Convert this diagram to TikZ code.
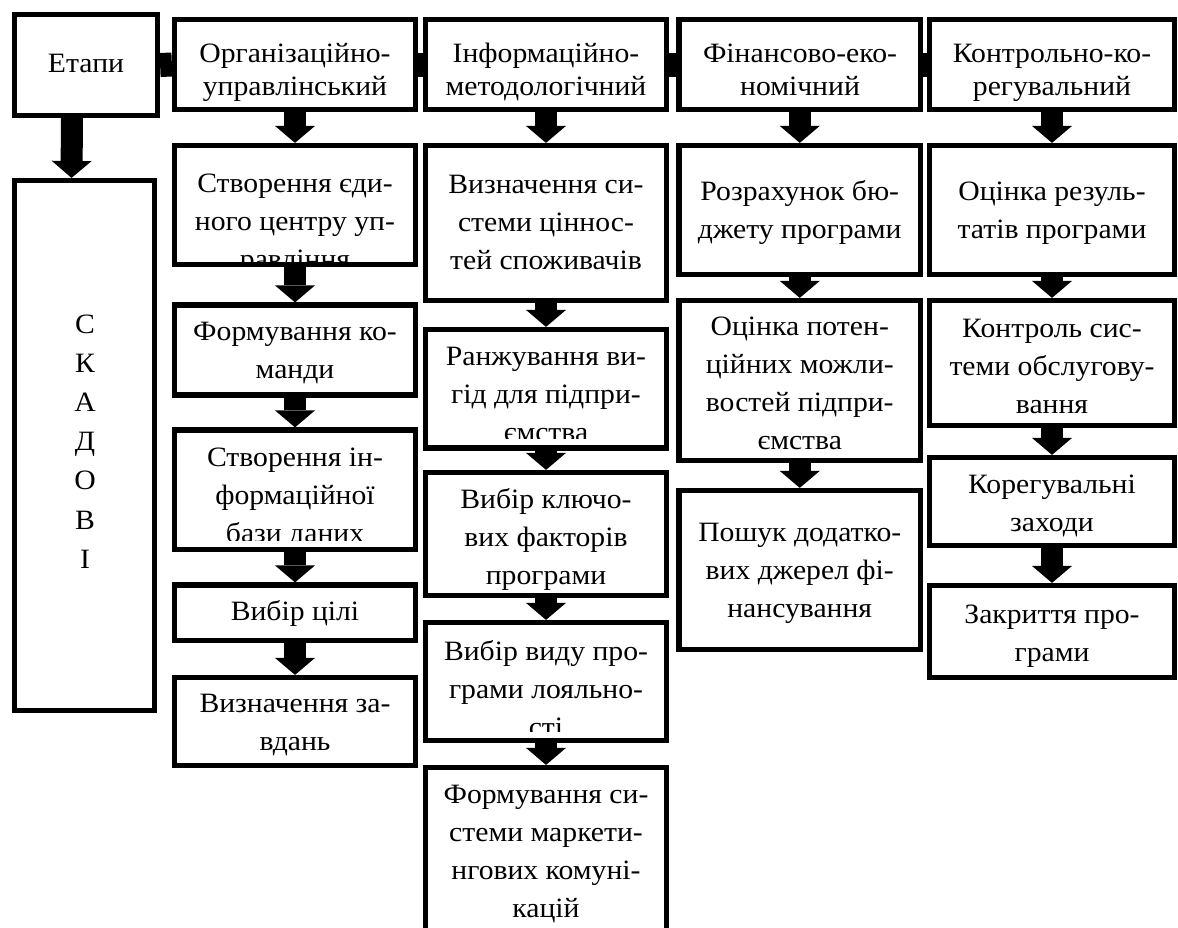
\documentclass[tikz,border=0pt]{standalone}
\usepackage{fontspec}
\setmainfont[FakeStretch=1.06]{Liberation Serif}
\usetikzlibrary{arrows.meta,fit}
\newcommand\lines[1]{\begin{tabular}[t]{@{}c@{}}#1\end{tabular}}
% box with clipped text: name, x1, y1, x2, y2, clip bottom, first baseline, text
\newcommand\mybox[8]{%
  \begin{scope}
    \clip (#2,#3) rectangle (#4,#6);
    \node[txt] (#1t) at ({(#2+#4)/2},#7) {\lines{#8}};
  \end{scope}
  \node[box, fit={(#2,#3) (#4,#5)}] (#1) {};
}
\begin{document}
\begin{tikzpicture}[x=0.5pt,y=-0.5pt,
  box/.style={draw=black, line width=2.6pt, inner sep=0pt},
  txt/.style={anchor=base, inner sep=0pt, font=\fontsize{14}{19}\selectfont},
  htxt/.style={anchor=base, inner sep=0pt, font=\fontsize{14}{16.5}\selectfont},
  blk/.style={line width=11pt, -{Triangle[length=8.5pt 0 0, width=20pt 0 0, line width=0pt]}},
  bar/.style={line width=12pt}]
\clip (0,0) rectangle (1178,927);
\fill[white] (0,0) rectangle (1178,927);

% stages box
\node[box, fit={(14.5,14.5) (157.5,115.5)}] (et) {};
\node[txt] (ett) at (86,72) {Етапи};
\node[box, fit={(14.5,180.5) (154.5,710.5)}] (sk) {};
\node[anchor=base, inner sep=0pt, font=\fontsize{14}{19.6}\selectfont] (skt) at (85,333) {\lines{С\\К\\А\\Д\\О\\В\\І}};

% header boxes
\node[box, fit={(174.5,19.5) (415.5,109.5)}] (org) {};
\node[htxt] (orgt) at (295,62) {\lines{Організаційно-\\управлінський}};
\node[box, fit={(425.5,19.5) (666.5,109.5)}] (inf) {};
\node[htxt] (inft) at (546,62) {\lines{Інформаційно-\\методологічний}};
\node[box, fit={(679,19.5) (920.5,109.5)}] (fin) {};
\node[htxt] (fint) at (800,62) {\lines{Фінансово-еко-\\номічний}};
\node[box, fit={(929.5,19.5) (1174.5,109.5)}] (kon) {};
\node[htxt] (kont) at (1052,62) {\lines{Контрольно-ко-\\регувальний}};

\draw[bar] (et.east) -- (org.west);
\draw[bar] (org.east) -- (inf.west);
\draw[bar] (inf.east) -- (fin.west);
\draw[bar] (fin.east) -- (kon.west);

% column 1
\mybox{o1}{174.5}{145.5}{415.5}{264.5}{261}{192}{Створення єди-\\ного центру уп-\\равління}
\mybox{o2}{174.5}{305}{415.5}{395}{395}{340}{Формування ко-\\манди}
\mybox{o3}{174.5}{430}{415.5}{549.5}{540}{466}{Створення ін-\\формаційної\\бази даних}
\mybox{o4}{174.5}{585}{415.5}{640.5}{640.5}{620}{Вибір цілі}
\mybox{o5}{174.5}{677.5}{415.5}{765.5}{765.5}{712}{Визначення за-\\вдань}

% column 2
\mybox{i1}{425.5}{145.5}{666.5}{300.5}{300.5}{193}{Визначення си-\\стеми ціннос-\\тей споживачів}
\mybox{i2}{425.5}{329.5}{666.5}{448}{438}{365}{Ранжування ви-\\гід для підпри-\\ємства}
\mybox{i3}{425.5}{472.5}{666.5}{595.5}{595.5}{508}{Вибір ключо-\\вих факторів\\програми}
\mybox{i4}{425.5}{622.5}{666.5}{740.5}{731}{660}{Вибір виду про-\\грами лояльно-\\сті}
\mybox{i5}{425.5}{767.5}{666.5}{960}{960}{803}{Формування си-\\стеми маркети-\\нгових комуні-\\кацій}

% column 3
\mybox{f1}{679}{145.5}{920.5}{274.5}{274.5}{200}{Розрахунок бю-\\джету програми}
\mybox{f2}{679}{300.5}{920.5}{460.5}{460.5}{335}{Оцінка потен-\\ційних можли-\\востей підпри-\\ємства}
\mybox{f3}{679}{490.5}{920.5}{649.5}{649.5}{541}{Пошук додатко-\\вих джерел фі-\\нансування}

% column 4
\mybox{k1}{929.5}{145.5}{1174.5}{274.5}{274.5}{200}{Оцінка резуль-\\татів програми}
\mybox{k2}{929.5}{300.5}{1174.5}{425.5}{425.5}{337}{Контроль сис-\\теми обслугову-\\вання}
\mybox{k3}{929.5}{457.5}{1174.5}{545.5}{545.5}{493}{Корегувальні\\заходи}
\mybox{k4}{929.5}{585.5}{1174.5}{677.5}{677.5}{623}{Закриття про-\\грами}

% arrows
\draw[blk] ([xshift=-7pt]et.south) -- ([xshift=-6.5pt]sk.north);
\draw[blk] (org.south) -- (o1.north);
\draw[blk] (o1.south) -- (o2.north);
\draw[blk] (o2.south) -- (o3.north);
\draw[blk] (o3.south) -- (o4.north);
\draw[blk] (o4.south) -- (o5.north);
\draw[blk] (inf.south) -- (i1.north);
\draw[blk] (i1.south) -- (i2.north);
\draw[blk] (i2.south) -- (i3.north);
\draw[blk] (i3.south) -- (i4.north);
\draw[blk] (i4.south) -- (i5.north);
\draw[blk] (fin.south) -- (f1.north);
\draw[blk] (f1.south) -- (f2.north);
\draw[blk] (f2.south) -- (f3.north);
\draw[blk] (kon.south) -- (k1.north);
\draw[blk] (k1.south) -- (k2.north);
\draw[blk] (k2.south) -- (k3.north);
\draw[blk] (k3.south) -- (k4.north);
\end{tikzpicture}
\end{document}
